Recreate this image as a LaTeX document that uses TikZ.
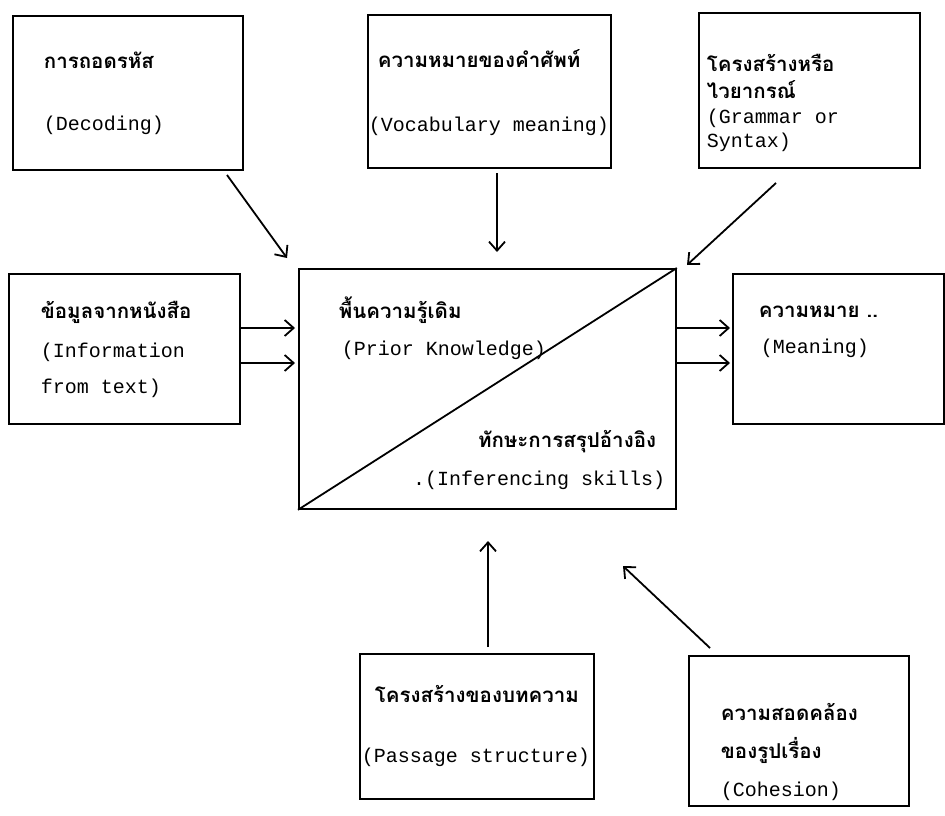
\documentclass[tikz,border=0pt]{standalone}
\usepackage{fontspec}
\setmonofont{Liberation Mono}
\newfontfamily\thaifont[Script=Thai]{Loma}
\usetikzlibrary{arrows.meta}

\tikzset{
  box/.style={draw, inner sep=0pt, anchor=north west},
  th/.style={anchor=base west, inner sep=0pt, font=\thaifont\bfseries\fontsize{20.5}{24}\selectfont},
  en/.style={anchor=base west, inner sep=0pt, font=\ttfamily\fontsize{20}{24}\selectfont},
  link/.style={-{Straight Barb[length=9pt,width=16pt]}}
}

\begin{document}
\begin{tikzpicture}[x=1pt, y=-1pt, line width=1.8pt]
  \useasboundingbox (0, 0) rectangle (945, 816);

  % boxes
  \node[box, minimum width=230pt, minimum height=154pt] (dec) at (12, 15) {};
  \node[box, minimum width=243pt, minimum height=153pt] (voc) at (367, 14) {};
  \node[box, minimum width=221pt, minimum height=155pt] (gra) at (698, 12) {};
  \node[box, minimum width=231pt, minimum height=150pt] (inf) at (8, 273) {};
  \node[box, minimum width=377pt, minimum height=240pt] (core) at (298, 268) {};
  \node[box, minimum width=211pt, minimum height=150pt] (mea) at (732, 273) {};
  \node[box, minimum width=234pt, minimum height=145pt] (pas) at (359, 653) {};
  \node[box, minimum width=220pt, minimum height=150pt] (coh) at (688, 655) {};
  \draw (core.south west) -- (core.north east);

  % texts
  \node[th] (decT) at (43, 68) {การถอดรหัส};
  \node[en] (decE) at (43, 130) {(Decoding)};
  \node[th] (vocT) at (377, 67) {ความหมายของคำศัพท์};
  \node[en] (vocE) at (368, 131) {(Vocabulary meaning)};
  \node[th] (graT1) at (706, 72) {โครงสร้างหรือ};
  \node[th] (graT2) at (706, 98) {ไวยากรณ์};
  \node[en] (graE1) at (706, 123) {(Grammar or};
  \node[en] (graE2) at (706, 147) {Syntax)};
  \node[th] (infT) at (40, 318) {ข้อมูลจากหนังสือ};
  \node[en] (infE1) at (40, 357) {(Information};
  \node[en] (infE2) at (40, 393) {from text)};
  \node[th] (coreT1) at (338, 318) {พื้นความรู้เดิม};
  \node[en] (coreE1) at (341, 355) {(Prior Knowledge)};
  \node[th, anchor=base east] (coreT2) at (657, 447) {ทักษะการสรุปอ้างอิง};
  \node[en, anchor=base east] (coreE2) at (666, 485) {.(Inferencing skills)};
  \node[th] (meaT) at (758, 317) {ความหมาย ..};
  \node[en] (meaE) at (760, 353) {(Meaning)};
  \node[th] (pasT) at (374, 702) {โครงสร้างของบทความ};
  \node[en] (pasE) at (361, 762) {(Passage structure)};
  \node[th] (cohT1) at (720, 720) {ความสอดคล้อง};
  \node[th] (cohT2) at (720, 758) {ของรูปเรื่อง};
  \node[en] (cohE) at (720, 796) {(Cohesion)};

  % arrow ends
  \coordinate (decA) at (227, 175);
  \coordinate (decB) at (287, 258);
  \coordinate (vocA) at (497, 173);
  \coordinate (vocB) at (497, 252);
  \coordinate (graA) at (776, 183);
  \coordinate (graB) at (687, 265);
  \coordinate (infA1) at (241, 328);
  \coordinate (infB1) at (295, 328);
  \coordinate (infA2) at (241, 363);
  \coordinate (infB2) at (295, 363);
  \coordinate (meaA1) at (677, 328);
  \coordinate (meaB1) at (730, 328);
  \coordinate (meaA2) at (677, 363);
  \coordinate (meaB2) at (730, 363);
  \coordinate (pasA) at (488, 647);
  \coordinate (pasB) at (488, 541);
  \coordinate (cohA) at (710, 648);
  \coordinate (cohB) at (623, 566);

  % arrows
  \foreach \a/\b in {decA/decB, vocA/vocB, graA/graB, infA1/infB1, infA2/infB2,
                     meaA1/meaB1, meaA2/meaB2, pasA/pasB, cohA/cohB}
    \draw[link] (\a) -- (\b);
\end{tikzpicture}
\end{document}
